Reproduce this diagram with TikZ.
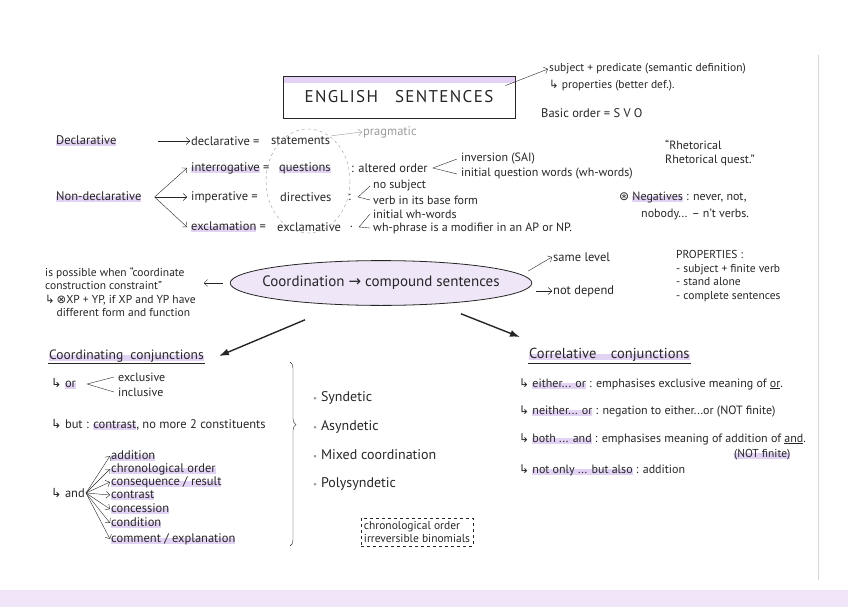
\documentclass[tikz,border=0pt]{standalone}
\usepackage{fontspec}
\setmainfont{PT Sans}
\newfontfamily\symfont{DejaVu Sans}
\usetikzlibrary{arrows.meta,decorations.pathreplacing,shapes.geometric}
\definecolor{ink}{HTML}{262626}
\definecolor{lav}{HTML}{E2D2F3}
\definecolor{band}{HTML}{F0E5F9}
\definecolor{pencil}{HTML}{9A9A9A}
\newsavebox\hlbox
\newcommand\hl[1]{\sbox\hlbox{#1}\rlap{\textcolor{lav}{\rule[-1.5pt]{\wd\hlbox}{6pt}}}\usebox\hlbox}
\newcommand\hk{{\symfont ↳}}
\begin{document}
\begin{tikzpicture}[
  x=1pt, y=-1pt,
  every node/.style={inner sep=1pt, text=ink},
  txt/.style={anchor=west, font=\fontsize{12.5}{14}\selectfont},
  note/.style={anchor=west, align=left, font=\fontsize{12}{14}\selectfont},
  small/.style={anchor=west, align=left, font=\fontsize{11.5}{13.5}\selectfont},
  arrow/.style={-{Straight Barb[length=3.5pt]}, ink},
  bigarrow/.style={-{Latex[length=10pt,width=7pt]}, line width=1.4pt, ink},
  branch/.style={ink, line join=miter},
  titlebox/.style={draw=ink, thick, minimum width=232, minimum height=42,
    font=\fontsize{17}{19}\selectfont\addfontfeature{LetterSpace=8},
    path picture={\fill[lav] (path picture bounding box.north west) rectangle ([yshift=-7pt]path picture bounding box.north east);}},
  coordell/.style={ellipse, draw=ink, thick, fill=lav!55, inner xsep=-12pt, inner ysep=9pt,
    font=\fontsize{15}{17}\selectfont}
]
\useasboundingbox (0,0) rectangle (848,607);
\fill[band] (0,590) rectangle (848,607);
\draw[pencil!40] (818,55) -- (818,580);

\node[titlebox] (title) at (399,97) {ENGLISH\quad SENTENCES};
\node[small] (def) at (548,69) {subject + predicate (semantic definition)};
\node[small] (prop) at (548,86) {\hk\ properties (better def.).};
\node[txt] (order) at (540,113) {Basic order = S V O};
\draw[arrow] ([shift={(-10,10)}]title.north east) -- (def.west);

\node[txt] (decl) at (55,141) {\hl{Declarative}};
\node[txt] (declk) at (190,141) {declarative =};
\node[txt] (stat) at (270,141) {statements};
\node[txt, text=pencil] (prag) at (362,132) {pragmatic};
\coordinate (declgo) at (158,141);
\draw[arrow] (declgo) -- (declk.west);
\draw[arrow, pencil] (stat.north east) -- (prag.west);

\node[txt] (nondecl) at (55,197) {\hl{Non-declarative}};
\node[txt] (interk) at (190,168) {\hl{interrogative} =};
\node[txt] (quest) at (278,168) {\hl{questions}};
\node[txt] (imperk) at (190,197) {imperative =};
\node[txt] (direct) at (279,197) {directives};
\node[txt] (exclk) at (190,227) {\hl{exclamation} =};
\node[txt] (exclam) at (276,227) {exclamative};
\draw[dashed, pencil] (308,181) ellipse [x radius=42, y radius=52];
\foreach \kd in {interk, imperk, exclk}
  \draw[arrow] ([xshift=12pt]nondecl.east) -- ([xshift=-3pt]\kd.west);

\node[txt] (alt) at (350,168) {: altered order};
\node[note] (inv) at (460,159) {inversion (SAI)};
\node[note] (iqw) at (460,174) {initial question words (wh-words)};
\draw[branch] ([xshift=-3pt]inv.west) -- ([xshift=4pt]alt.east) -- ([xshift=-3pt]iqw.west);

\node[txt] (dirc) at (347,197) {:};
\node[note] (nosub) at (372,186) {no subject};
\node[note] (vbf) at (372,200) {verb in its base form};
\draw[branch] ([xshift=-2pt]nosub.west) -- ([xshift=6pt]dirc.east) -- ([xshift=-2pt]vbf.west);

\node[txt] (excc) at (349,227) {.};
\node[note] (iwh) at (372,214) {initial wh-words};
\node[note] (whp) at (372,228) {wh-phrase is a modifier in an AP or NP.};
\draw[branch] ([xshift=-2pt]iwh.west) -- ([xshift=5pt]excc.east) -- ([xshift=-2pt]whp.west);

\node[note] (rhet) at (664,153) {``Rhetorical\\Rhetorical quest.''};
\node[note] (neg) at (618,198) {{\symfont ⊛} \hl{Negatives} : never, not,};
\node[note] (negb) at (640,214) {nobody... -- n't verbs.};

\node[coordell] (coord) at (381,283) {Coordination {\symfont →} compound sentences};
\node[small] (ccc) at (44,292) {is possible when “coordinate\\construction constraint”\\\hk\,{\symfont ⊗}XP + YP, if XP and YP have\\\quad different form and function};
\draw[arrow] ([xshift=-7pt]coord.west) -- ([xshift=-26pt]coord.west);
\node[txt] (same) at (552,257) {same level};
\node[txt] (dep) at (552,291) {not depend};
\draw[arrow] ([shift={(-4,-12)}]coord.east) -- (same.west);
\draw[arrow] ([shift={(4,8)}]coord.east) -- (dep.west);
\node[small] (props) at (675,276) {PROPERTIES :\\- subject + finite verb\\- stand alone\\- complete sentences};

\node[txt, font=\fontsize{13.5}{15}\selectfont] (coordc) at (48,356) {\hl{Coordinating\ \ conjunctions}};
\node[txt, font=\fontsize{14.5}{16}\selectfont] (correl) at (528,355) {\hl{Correlative\quad conjunctions}};
\draw[ink] (coordc.south west) -- (coordc.south east);
\draw[ink] (correl.south west) -- (correl.south east);
\draw[bigarrow] ([shift={(-76,14)}]coord.south) -- ([xshift=14pt]coordc.east);
\draw[bigarrow] ([shift={(80,8)}]coord.south) -- ([shift={(-8,-10)}]correl.north west);

\node[txt] (or) at (50,384) {\hk\ \hl{or}};
\node[note] (excl) at (117,377) {exclusive};
\node[note] (incl) at (117,392) {inclusive};
\draw[branch] ([xshift=-3pt]excl.west) -- ([xshift=10pt]or.east) -- ([xshift=-3pt]incl.west);
\node[txt] (but) at (50,425) {\hk\ but : \hl{contrast}, no more 2 constituents};
\node[txt] (and) at (50,493) {\hk\ and};
\foreach \nm/\yy/\tx in {addit/456/addition, chrono/469/chronological order,
    conseq/482/{consequence / result}, contr/495/contrast, conces/509/concession,
    condit/523/condition, comment/539/{comment / explanation}} {
  \node[txt] (\nm) at (110,\yy) {\hl{\tx}};
  \draw[arrow] (and.east) -- (\nm.west);
}

\coordinate (btop) at (290,362);
\coordinate (bbot) at (290,546);
\draw[ink, decorate, decoration={brace, amplitude=6pt, aspect=0.34}] (btop) -- (bbot);
\foreach \nm/\yy/\tx in {syn/398/Syndetic, asyn/427/Asyndetic, mixed/455/Mixed coordination, poly/484/Polysyndetic}
  \node[txt, font=\fontsize{14}{16}\selectfont] (\nm) at (312,\yy) {{\color{pencil}\small\textbullet}\ \tx};
\node[small, anchor=center, draw=ink, dashed, inner sep=3pt] (binom) at (417,532) {chronological order\\irreversible binomials};

\node[note] (either) at (518,384) {\hk\ \hl{either... or} : emphasises exclusive meaning of \underline{or}.};
\node[note] (neither) at (518,411) {\hk\ \hl{neither... or} : negation to either...or (NOT finite)};
\node[note] (both) at (518,439) {\hk\ \hl{both ... and} : emphasises meaning of addition of \underline{and}.};
\node[small] (notfin) at (733,455) {\hl{(NOT finite)}};
\node[note] (notonly) at (518,470) {\hk\ \hl{not only ... but also} : addition};
\end{tikzpicture}
\end{document}
